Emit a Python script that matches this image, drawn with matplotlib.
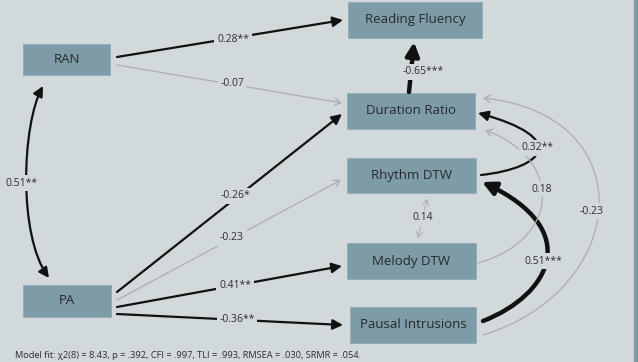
import matplotlib.pyplot as plt
from matplotlib.patches import FancyArrowPatch, Rectangle
from matplotlib.path import Path

# path model: nodes, paths and standardized coefficients
nodes = ["Reading Fluency", "Duration Ratio", "Rhythm DTW", "Melody DTW",
         "Pausal Intrusions", "RAN", "PA"]
path_from = ["RAN", "RAN", "PA", "PA", "PA", "PA", "Duration Ratio",
             "Rhythm DTW", "Pausal Intrusions", "Melody DTW",
             "Pausal Intrusions", "RAN", "Melody DTW"]
path_to = ["Reading Fluency", "Duration Ratio", "Duration Ratio", "Rhythm DTW",
           "Melody DTW", "Pausal Intrusions", "Reading Fluency",
           "Duration Ratio", "Rhythm DTW", "Duration Ratio", "Duration Ratio",
           "PA", "Rhythm DTW"]
coefs = ["0.28**", "-0.07", "-0.26*", "-0.23", "0.41**", "-0.36**", "-0.65***",
         "0.32**", "0.51***", "0.18", "-0.23", "0.51**", "0.14"]
fit_note = "Model fit: χ2(8) = 8.43, p = .392, CFI = .997, TLI = .993, RMSEA = .030, SRMR = .054."

# layout (pixel space, y down)
boxes = {
    "Reading Fluency": (348, 2, 482, 38),
    "Duration Ratio": (347, 93, 475, 129),
    "Rhythm DTW": (347, 158, 476, 193),
    "Melody DTW": (347, 243, 476, 279),
    "Pausal Intrusions": (350, 307, 476, 343),
    "RAN": (23, 44, 110, 75),
    "PA": (23, 285, 111, 317),
}
# geometry per path: list of points (2 = straight, 4 = cubic), label position
geom = [
    ([(117, 57), (343, 20)], (233, 40)),
    ([(117, 65), (342, 103)], (232, 83)),
    ([(117, 292), (342, 114)], (235, 196)),
    ([(117, 300), (341, 180)], (232, 238)),
    ([(117, 307), (342, 266)], (235, 286)),
    ([(117, 314), (343, 325)], (237, 320)),
    ([(409, 92), (414, 42)], (423, 72)),
    ([(481, 175), (545, 168), (570, 138), (478, 113)], (538, 148)),
    ([(483, 321), (550, 295), (585, 230), (482, 182)], (543, 261)),
    ([(478, 263), (560, 240), (565, 160), (485, 130)], (542, 189)),
    ([(483, 335), (630, 290), (645, 115), (483, 98)], (592, 211)),
    ([(43, 86), (22, 125), (18, 235), (49, 278)], (22, 183)),
    ([(427, 199), (418, 238)], (423, 218)),
]

BG = "#d2d9da"
BOX = "#7e9ca7"
GRAY = "#a9afb1"
INK = "#111111"

fig = plt.figure(figsize=(6.38, 3.62), dpi=100)
fig.patch.set_facecolor(BG)
ax = fig.add_axes([0, 0, 1, 1])
ax.set_xlim(0, 638)
ax.set_ylim(362, 0)
ax.axis("off")
ax.set_facecolor(BG)

ax.add_patch(Rectangle((634, 0), 4, 362, color="#7f9ba6", zorder=0))

for name in nodes:
    x0, y0, x1, y1 = boxes[name]
    ax.add_patch(Rectangle((x0, y0), x1 - x0, y1 - y0, facecolor=BOX,
                           edgecolor="#8eabb5", linewidth=0.6, zorder=2))
    ax.text((x0 + x1) / 2, (y0 + y1) / 2, name, ha="center", va="center",
            fontsize=9.5, family="Open Sans", color="#262a2c", zorder=3)

for i, c in enumerate(coefs):
    pts, lab = geom[i]
    sig = "*" in c
    strong = "***" in c
    color = INK if sig else GRAY
    if strong:
        lw, style = 3.2, "-|>,head_length=0.4,head_width=0.2"
    elif sig:
        lw, style = 1.6, "-|>,head_length=0.3,head_width=0.15"
    else:
        lw, style = 0.9, "->,head_length=0.22,head_width=0.13"
    if path_from[i] == "RAN" and path_to[i] == "PA":
        style = style.replace("-|>", "<|-|>")
    if path_from[i] == "Melody DTW" and path_to[i] == "Rhythm DTW":
        style = "<->,head_length=0.2,head_width=0.12"
        lw = 0.7
    if len(pts) == 2:
        codes = [Path.MOVETO, Path.LINETO]
    else:
        codes = [Path.MOVETO, Path.CURVE4, Path.CURVE4, Path.CURVE4]
    arrow = FancyArrowPatch(path=Path(pts, codes), arrowstyle=style,
                            mutation_scale=20, color=color, linewidth=lw,
                            zorder=4)
    ax.add_patch(arrow)
    ax.text(lab[0], lab[1], c, ha="center", va="center", fontsize=7.5,
            family="Open Sans", color="#2a2e30", zorder=5,
            bbox=dict(boxstyle="square,pad=0.25", facecolor=BG, edgecolor="none"))

ax.text(15, 355, fit_note, ha="left", va="center", fontsize=6.7,
        family="Open Sans", color="#2a2e30")

fig.savefig("out.png", dpi=100, facecolor=BG)
